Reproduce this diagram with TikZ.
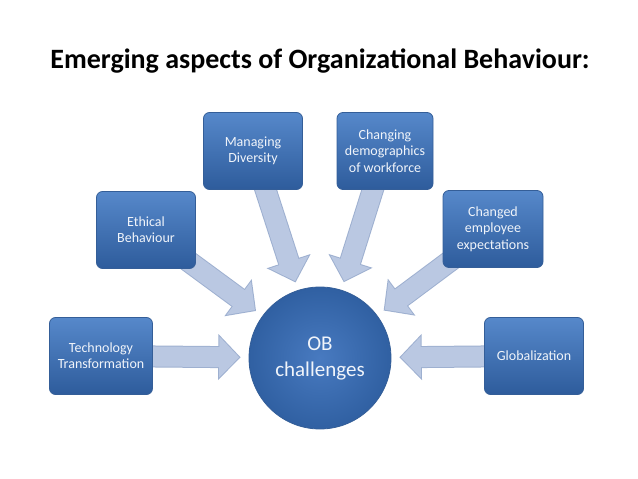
\documentclass[tikz,border=0pt]{standalone}
\usepackage{fontspec}
\setmainfont{Carlito}
\usetikzlibrary{arrows.meta,backgrounds}
\definecolor{boxtop}{RGB}{86,136,202}
\definecolor{boxbot}{RGB}{46,92,156}
\definecolor{boxrim}{RGB}{52,94,152}
\definecolor{obin}{RGB}{72,122,192}
\definecolor{obout}{RGB}{48,96,162}
\definecolor{arrfill}{RGB}{186,200,226}
\definecolor{arrrim}{RGB}{158,176,208}
\definecolor{textwhite}{RGB}{240,244,250}
\tikzset{
  obbox/.style={draw=boxrim,line width=0.8pt,rounded corners=6pt,top color=boxtop,bottom color=boxbot,
    minimum width=99pt,minimum height=77pt,align=center,text=textwhite,font=\fontsize{14}{16.3}\selectfont},
  obcircle/.style={circle,draw=boxrim,line width=0.8pt,inner color=obin,outer color=obout,
    minimum size=142pt,inner sep=0pt,align=center,text=textwhite,font=\fontsize{21}{26}\selectfont},
}
\begin{document}
\begin{tikzpicture}[x=1pt,y=-1pt,
    rimarrow/.style={line width=22pt,draw=arrrim,-{Triangle[width=44.8pt,length=22.4pt]},shorten >=8pt},
    bodyarrow/.style={line width=20pt,draw=arrfill,-{Triangle[width=40pt,length=20pt]},shorten >=9.4pt},
  ]
  \useasboundingbox (0,0) rectangle (638,479);
  \node[font=\fontsize{28}{34}\selectfont\bfseries] (title) at (320,61) {Emerging aspects of Organizational Behaviour:};

  % centre
  \node[obcircle] (ob) at (320,358) {OB\\challenges};

  % aspects
  \node[obbox,minimum width=103pt] (tech) at (101,356) {Technology\\Transformation};
  \node[obbox] (ethic) at (146,230) {Ethical\\Behaviour};
  \node[obbox] (diver) at (253,151) {Managing\\Diversity};
  \node[obbox,minimum width=96pt] (demog) at (385,151) {Changing\\demographics\\of workforce};
  \node[obbox,minimum width=100pt] (expect) at (493,229) {Changed\\employee\\expectations};
  \node[obbox] (glob) at (534,356) {Globalization};

  % block arrows
  \begin{scope}[on background layer]
    \foreach \src in {tech,ethic,diver,demog,expect,glob}{
      \draw[rimarrow] (\src.center) -- (ob);
      \draw[bodyarrow] (\src.center) -- (ob);
    }
  \end{scope}
\end{tikzpicture}
\end{document}
